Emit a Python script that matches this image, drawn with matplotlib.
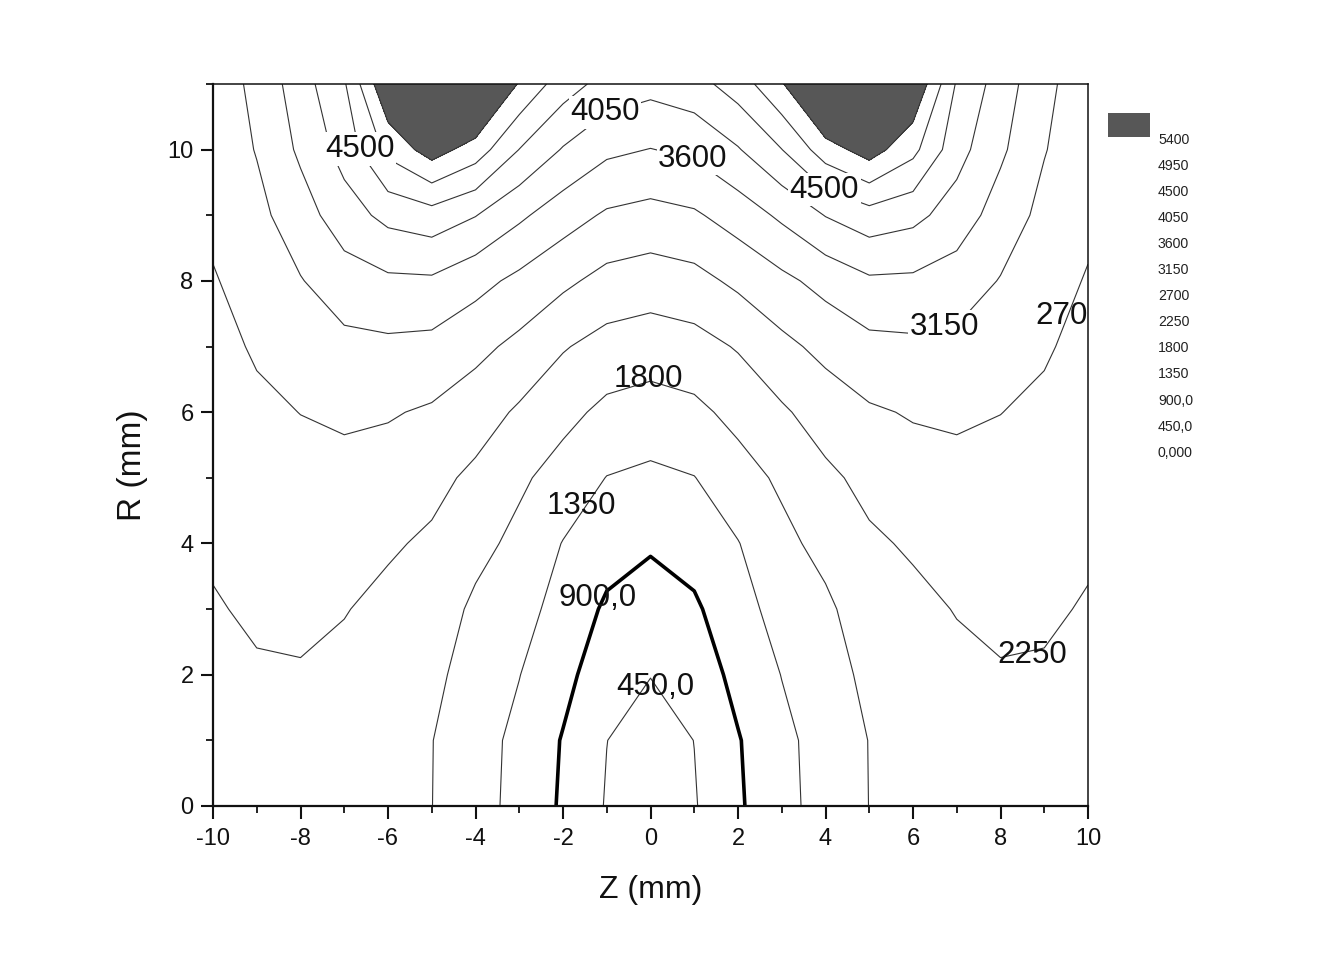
import numpy as np
import matplotlib
matplotlib.use("Agg")
import matplotlib.pyplot as plt
from matplotlib.patches import Rectangle

plt.rcParams['font.family'] = ['Liberation Sans', 'DejaVu Sans']
plt.rcParams['axes.unicode_minus'] = False

# ---------------- data ----------------
z_mm = [-10, -9, -8, -7, -6, -5, -4, -3, -2, -1, 0, 1, 2, 3, 4, 5, 6, 7, 8, 9, 10]
r_mm = [0, 1, 2, 3, 4, 5, 6, 7, 8, 9, 10, 11]

# field values, one row per R (0..11), one column per Z (-10..10)
field_r0 = [2040, 2100, 2110, 2060, 1960, 1805, 1515, 1220, 840, 417, 0, 417, 840, 1220, 1515, 1805, 1960, 2060, 2110, 2100, 2040]
field_r1 = [2080, 2150, 2150, 2080, 1990, 1810, 1527, 1240, 872, 455, 230, 455, 872, 1240, 1527, 1810, 1990, 2080, 2150, 2150, 2080]
field_r2 = [2140, 2210, 2220, 2145, 2050, 1934, 1560, 1360, 1026, 647, 462, 647, 1026, 1360, 1560, 1934, 2050, 2145, 2220, 2210, 2140]
field_r3 = [2218, 2308, 2335, 2269, 2140, 2058, 1710, 1520, 1180, 834, 700, 834, 1180, 1520, 1710, 2058, 2140, 2269, 2335, 2308, 2218]
field_r4 = [2305, 2414, 2457, 2425, 2304, 2182, 1941, 1680, 1334, 1073, 949, 1073, 1334, 1680, 1941, 2182, 2304, 2425, 2457, 2414, 2305]
field_r5 = [2396, 2520, 2579, 2580, 2514, 2373, 2158, 1878, 1616, 1339, 1258, 1339, 1616, 1878, 2158, 2373, 2514, 2580, 2579, 2520, 2396]
field_r6 = [2487, 2626, 2705, 2763, 2736, 2645, 2454, 2188, 1931, 1693, 1610, 1693, 1931, 2188, 2454, 2645, 2736, 2763, 2705, 2626, 2487]
field_r7 = [2578, 2743, 2913, 3035, 3059, 3021, 2822, 2586, 2285, 2086, 2012, 2086, 2285, 2586, 2822, 3021, 3059, 3035, 2913, 2743, 2578]
field_r8 = [2667, 2886, 3127, 3389, 3518, 3532, 3297, 3042, 2793, 2557, 2475, 2557, 2793, 3042, 3297, 3532, 3518, 3389, 3127, 2886, 2667]
field_r9 = [2796, 3029, 3397, 3848, 4174, 4310, 4066, 3682, 3349, 3090, 3002, 3090, 3349, 3682, 4066, 4310, 4174, 3848, 3397, 3029, 2796]
field_r10 = [2860, 3172, 3680, 4219, 5075, 5610, 5187, 4492, 4016, 3690, 3588, 3690, 4016, 4492, 5187, 5610, 5075, 4219, 3680, 3172, 2860]
field_r11 = [2920, 3250, 3850, 4450, 5850, 7000, 6400, 5350, 4710, 4333, 4196, 4333, 4710, 5350, 6400, 7000, 5850, 4450, 3850, 3250, 2920]

levels = [0, 450, 900, 1350, 1800, 2250, 2700, 3150, 3600, 4050, 4500, 4950, 5400]

# contour labels: level, (Z, R) position of the label centre
label_levels = [4500, 4050, 3600, 4500, 3150, 2700, 1800, 1350, 900, 450, 2250]
label_z = [-6.64, -1.04, 0.97, 3.97, 6.71, 9.59, -0.06, -1.59, -1.22, 0.10, 8.72]
label_r = [10.01, 10.57, 9.86, 9.39, 7.30, 7.46, 6.51, 4.57, 3.17, 1.81, 2.30]
label_masked = [True, True, True, True, True, False, False, False, False, False, False]


def origin_fmt(v):
    if v >= 1000:
        s = f"{v:.0f}"
    elif v >= 100:
        s = f"{v:.1f}"
    else:
        s = f"{v:.3f}"
    return s.replace('.', ',')


field = np.array([field_r0, field_r1, field_r2, field_r3, field_r4, field_r5,
                  field_r6, field_r7, field_r8, field_r9, field_r10, field_r11], dtype=float)
Z, R = np.meshgrid(z_mm, r_mm)

# ---------------- figure ----------------
W, H = 1337, 964
fig = plt.figure(figsize=(W / 100, H / 100), dpi=100)
fig.patch.set_facecolor('white')
ax = fig.add_axes([213 / W, 1 - 806 / H, (1088 - 213) / W, (806 - 84) / H])

# filled region above the highest level
ax.contourf(Z, R, field, levels=[levels[-1], field.max() + 1], colors=['#575757'], zorder=1)

line_levels = levels[1:]
widths = [2.6 if lv == 900 else 0.8 for lv in line_levels]
cols = ['#000000' if lv == 900 else '#333333' for lv in line_levels]
ax.contour(Z, R, field, levels=line_levels, colors=cols, linewidths=widths, zorder=2)

for lv, zz, rr, m in zip(label_levels, label_z, label_r, label_masked):
    kw = dict(ha='center', va='center', fontsize=22.5, color='#111111', zorder=5)
    if m:
        kw['bbox'] = dict(boxstyle='square,pad=0.05', fc='white', ec='none')
    t = ax.text(zz, rr, origin_fmt(lv), **kw)
    t.set_clip_on(True)

ax.set_xlim(-10, 10)
ax.set_ylim(0, 11)
ax.set_xticks(range(-10, 11, 2))
ax.set_xticks(range(-9, 10, 2), minor=True)
ax.set_yticks(range(0, 11, 2))
ax.set_yticks(range(1, 12, 2), minor=True)
ax.tick_params(which='major', direction='out', length=9, width=1.5, labelsize=17,
               top=False, right=False, colors='#111111')
ax.tick_params(which='minor', direction='out', length=5, width=1.3,
               top=False, right=False, colors='#111111')
ax.tick_params(axis='x', which='major', pad=7)
ax.tick_params(axis='y', which='major', pad=5)
for side in ['left', 'bottom']:
    ax.spines[side].set_linewidth(1.6)
for side in ['top', 'right']:
    ax.spines[side].set_linewidth(1.1)
for sp in ax.spines.values():
    sp.set_color('#111111')

ax.set_xlabel('Z (mm)', fontsize=23, color='#111111')
ax.set_ylabel('R (mm)', fontsize=24, color='#111111')
ax.xaxis.set_label_coords(0.5, -(875 - 806) / (806 - 84))
ax.yaxis.set_label_coords(-(213 - 148) / (1088 - 213), (806 - 465) / (806 - 84))

# legend (colour scale list)
fig.patches.append(Rectangle((1108 / W, 1 - 137 / H), 42 / W, 24 / H,
                             transform=fig.transFigure, facecolor='#575757',
                             edgecolor='none'))
for i, lv in enumerate(levels[::-1]):
    fig.text(1158 / W, 1 - (140 + 26.05 * i) / H, origin_fmt(lv), fontsize=10.2,
             ha='left', va='center', color='#222222')

fig.savefig('out.png', dpi=100, facecolor='white')
